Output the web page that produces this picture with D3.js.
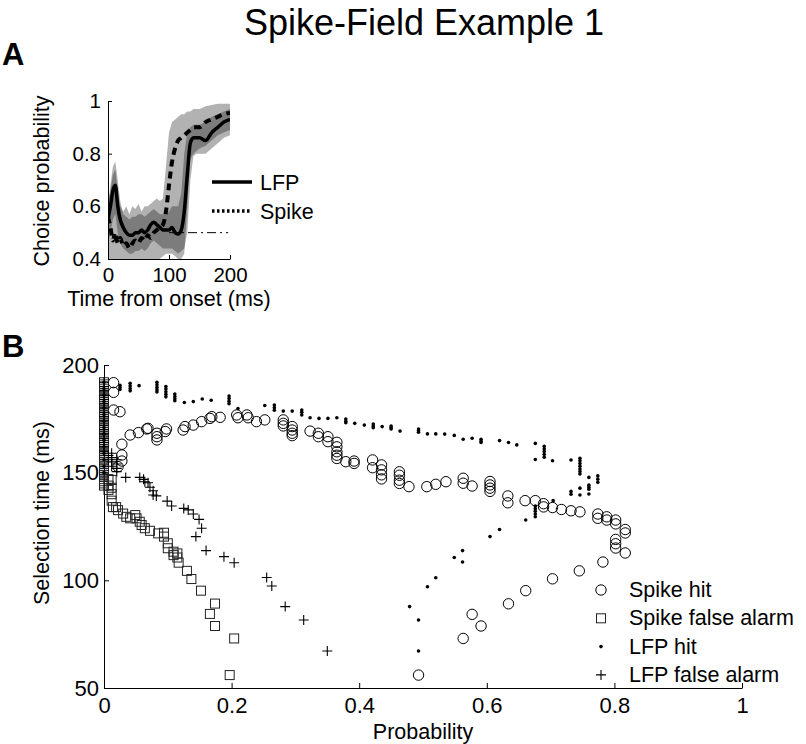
<!DOCTYPE html>
<html><head><meta charset="utf-8">
<script src="https://cdn.jsdelivr.net/npm/d3@7"></script>
<style>body{margin:0;background:#fff}svg{display:block;font-family:"Liberation Sans",Arial,sans-serif}</style>
</head><body><svg id="c" width="806" height="744"></svg>
<script>
// ---------- Panel A data ----------
const timeA = [0,4,8,12,16,20,25,30,35,40,45,50,55,60,65,70,75,80,85,90,95,100,105,110,115,120,125,130,135,140,145,150,160,170,180,190,200];
const lfpCP   = [0.55,0.6,0.66,0.68,0.6,0.55,0.52,0.5,0.49,0.49,0.5,0.5,0.51,0.5,0.51,0.53,0.54,0.53,0.52,0.51,0.51,0.51,0.52,0.5,0.495,0.51,0.58,0.72,0.84,0.86,0.86,0.86,0.85,0.88,0.9,0.92,0.93];
const spikeCP = [0.56,0.52,0.47,0.5,0.46,0.48,0.45,0.46,0.44,0.46,0.47,0.46,0.48,0.47,0.49,0.48,0.5,0.51,0.52,0.53,0.58,0.68,0.77,0.82,0.85,0.86,0.87,0.88,0.89,0.9,0.9,0.9,0.92,0.93,0.94,0.95,0.955];
const spikeHi = [0.62,0.66,0.72,0.74,0.66,0.6,0.58,0.6,0.57,0.6,0.59,0.61,0.58,0.6,0.6,0.61,0.62,0.63,0.62,0.63,0.75,0.88,0.92,0.93,0.94,0.95,0.95,0.96,0.96,0.97,0.97,0.97,0.98,0.985,0.99,0.99,0.99];
const spikeLo = [0.4,0.38,0.37,0.39,0.37,0.38,0.36,0.37,0.36,0.37,0.38,0.37,0.39,0.38,0.39,0.38,0.39,0.4,0.4,0.41,0.42,0.42,0.42,0.41,0.4,0.4,0.42,0.6,0.78,0.8,0.81,0.82,0.83,0.85,0.87,0.88,0.89];
const lfpHi   = [0.6,0.68,0.75,0.77,0.7,0.62,0.57,0.56,0.55,0.56,0.56,0.57,0.57,0.56,0.57,0.58,0.59,0.58,0.57,0.57,0.57,0.58,0.6,0.6,0.6,0.65,0.8,0.88,0.9,0.91,0.91,0.91,0.92,0.94,0.95,0.96,0.97];
const lfpLo   = [0.46,0.5,0.55,0.57,0.5,0.46,0.44,0.43,0.42,0.42,0.43,0.43,0.44,0.43,0.44,0.46,0.47,0.46,0.45,0.44,0.44,0.44,0.44,0.43,0.42,0.43,0.44,0.5,0.7,0.79,0.8,0.8,0.8,0.82,0.84,0.86,0.87];
const chanceLevel = 0.5;
const ticksAx = [0,100,200];
const ticksAy = [0.4,0.6,0.8,1];

// ---------- Panel B data: [probability, selection time (ms)] ----------
const spikeHit = [[0.015,191.8],[0.015,187.3],[0.015,179.1],[0.025,178.3],[0.028,163.2],[0.028,158.2],[0.028,155.4],[0.022,152.8],
[0.041,167.5],[0.054,168.6],[0.067,170.3],[0.069,170.6],[0.083,168.3],[0.083,166.7],[0.083,165.2],[0.096,169.1],[0.098,170.3],[0.124,169.8],[0.127,171.4],[0.14,172.1],[0.153,173.7],[0.166,175.2],[0.169,176],[0.182,175.7],[0.208,176.8],[0.21,175.5],[0.224,176.8],[0.226,175.5],[0.239,173.7],[0.252,174.5],[0.281,174.5],[0.281,172.9],[0.281,171.7],[0.295,171.4],[0.295,169.8],[0.295,168.3],[0.295,167.2],[0.323,169.3],[0.336,168.3],[0.336,166.7],[0.351,166.7],[0.351,164.4],[0.365,164.1],[0.365,162],[0.365,159.7],[0.365,158.1],[0.365,156.6],[0.379,155.1],[0.392,155.4],[0.392,154.3],[0.421,155.9],[0.421,152.3],[0.435,153.6],[0.435,151.3],[0.435,149],[0.435,147.1],[0.463,150.4],[0.463,148.8],[0.463,146.5],[0.463,145],[0.478,143.5],[0.506,143.5],[0.52,144.6],[0.536,145.8],[0.563,147.4],[0.563,145.1],[0.577,143.8],[0.605,145.9],[0.605,144.3],[0.605,142.8],[0.605,141.3],[0.633,139.2],[0.633,136],[0.66,137],[0.676,137],[0.689,135.6],[0.689,134.1],[0.703,133.8],[0.717,132.9],[0.732,132.3],[0.746,131.8],[0.774,130.8],[0.774,128.8],[0.788,129.5],[0.788,128],[0.802,128],[0.802,126.2],[0.817,123.6],[0.817,122],[0.802,119],[0.802,117],[0.802,115],[0.817,112.7],[0.782,108.5],[0.745,104.4],[0.703,100.7],[0.661,95.2],[0.634,89.1],[0.577,84.2],[0.591,78.8],[0.563,73],[0.493,56]];

const spikeFA = [[0,192],[0,191],[0,190],[0,189],[0,188],[0,187],[0,186],[0,185],[0,184],[0,183],[0,182],[0,181],[0,180],[0,179],[0,178],[0,177],[0,176],[0,175],[0,174],[0,173],[0,172],[0,171],[0,170],[0,169],[0,168],[0,167],[0,166],[0,165],[0,164],[0,163],[0,162],[0,161],[0,160],[0,159],[0,158],[0,157],[0,156],[0,155],[0,154],[0,153],[0,152],[0,151],[0,150],[0,149],[0,148],[0,147],[0,146],[0,145],[0,144],
[0.007,147],[0.007,144],[0.007,142],[0.012,146.6],[0.012,143],[0.012,140],[0.012,137],[0.014,134],[0.019,134],[0.022,132.6],[0.03,131],[0.035,129.5],[0.041,128.8],[0.049,130.3],[0.051,128.8],[0.056,127.2],[0.059,125.7],[0.064,124.2],[0.072,123],[0.085,121.8],[0.094,122.1],[0.094,120.3],[0.1,117.2],[0.1,114.9],[0.109,113.3],[0.109,111.7],[0.115,112.5],[0.115,110.6],[0.117,108.2],[0.13,104.4],[0.137,100.6],[0.152,95.2],[0.174,89.2],[0.166,84.4],[0.174,78.8],[0.204,73],[0.197,56]];

const lfpHit = [[0,192],[0,189],[0,186],[0,183],[0,180],[0,177],[0,174],[0,171],[0,168],[0,165],[0,162],[0,159],[0,156],[0,153],[0,150],
[0.025,190.6],[0.025,189.6],[0.025,188.6],[0.041,191.5],[0.041,190.3],[0.041,189.1],[0.041,188],[0.055,190.4],[0.083,192],[0.083,190.8],[0.083,189.6],[0.083,188.5],[0.083,187.5],[0.097,190],[0.097,188.8],[0.097,187.6],[0.097,186.4],[0.097,185.2],[0.111,186.5],[0.111,185.4],[0.111,184.3],[0.111,183.4],[0.126,182.6],[0.14,183],[0.154,184.2],[0.168,183.6],[0.196,185.6],[0.196,184.4],[0.196,183.2],[0.196,182],[0.21,179.8],[0.252,181.2],[0.267,181.4],[0.267,180.2],[0.267,179],[0.281,178.6],[0.295,178.6],[0.31,179.1],[0.31,178],[0.31,176.8],[0.323,175.5],[0.337,175.2],[0.351,175.2],[0.365,175.5],[0.379,174.9],[0.379,173.9],[0.379,173.2],[0.393,172.9],[0.408,172.1],[0.422,172.6],[0.422,171.7],[0.422,170.9],[0.436,171.4],[0.45,171.7],[0.45,170.9],[0.45,170.3],[0.464,169.3],[0.493,170.3],[0.493,169.5],[0.493,168.8],[0.507,168],[0.52,168],[0.534,167.9],[0.549,167.3],[0.563,165.5],[0.577,166],[0.591,165.5],[0.591,164.7],[0.591,164],[0.62,164.9],[0.634,164],[0.647,162.9],[0.676,163.6],[0.69,162.2],[0.69,161],[0.69,159.8],[0.69,158.5],[0.69,157.2],[0.676,156.1],[0.703,155.5],[0.732,155.9],[0.746,156.7],[0.746,155.5],[0.746,154.2],[0.746,153],[0.746,151.7],[0.746,150.5],[0.746,149.4],[0.76,147.8],[0.774,148.5],[0.774,147],[0.774,145.5],[0.76,144.2],[0.76,143.2],[0.76,142.3],[0.76,140.1],[0.746,142.8],[0.746,139.6],[0.732,141.3],[0.732,140],[0.704,137],[0.676,134.5],[0.676,133.3],[0.676,132.1],[0.676,130.8],[0.676,129.5],[0.661,128],[0.62,123.6],[0.605,120.3],[0.562,113.8],[0.549,110.6],[0.562,108.5],[0.52,101.2],[0.507,97],[0.479,87.8],[0.493,81.6],[0.493,67.2]];

const lfpFA = [[0,192],[0,190],[0,188],[0,186],[0,184],[0,182],[0,180],[0,178],[0,176],[0,174],[0,172],[0,170],[0,168],[0,166],[0,164],[0,162],[0,160],
[0.007,158],[0.007,156],[0.012,159],[0.012,157],[0.012,155],[0.012,153],[0.02,156],[0.02,154],[0.02,152],[0.02,150.5],[0.034,147.8],[0.056,147.8],[0.062,146.9],[0.064,145.8],[0.069,145.3],[0.072,143.2],[0.077,141.6],[0.077,139.6],[0.082,139.2],[0.099,136.8],[0.106,134.5],[0.125,133.4],[0.132,132.7],[0.14,130.8],[0.149,128.3],[0.153,124.2],[0.144,120.3],[0.16,113.8],[0.188,111],[0.204,108.2],[0.255,101.3],[0.263,97.4],[0.284,87.8],[0.313,81.6],[0.35,67.2]];

const ticksBx = [0,0.2,0.4,0.6,0.8,1];
const ticksBy = [50,100,150,200];
const legendB = ["Spike hit","Spike false alarm","LFP hit","LFP false alarm"];
const legendA = ["LFP","Spike"];

// ---------- drawing ----------
const svg = d3.select("#c");
svg.append("text").attr("x",424).attr("y",35).attr("text-anchor","middle")
  .attr("font-size",36).text("Spike-Field Example 1");
svg.append("text").attr("x",2).attr("y",65).attr("font-size",31).attr("font-weight","bold").text("A");
svg.append("text").attr("x",2).attr("y",357).attr("font-size",31).attr("font-weight","bold").text("B");

// Panel A
const xA = d3.scaleLinear().domain([0,200]).range([108,230]);
const yA = d3.scaleLinear().domain([0.4,1]).range([259,101]);
const defs = svg.append("defs");
defs.append("clipPath").attr("id","clipA").append("rect")
  .attr("x",xA(0)).attr("y",yA(1)-2).attr("width",xA(200)-xA(0)).attr("height",yA(0.4)-yA(1)+2);
const gA = svg.append("g").attr("clip-path","url(#clipA)");
const area = (lo,hi) => d3.area().x((d,i)=>xA(timeA[i])).y0((d,i)=>yA(lo[i])).y1((d,i)=>yA(hi[i]));
gA.append("path").attr("d",area(spikeLo,spikeHi)(timeA)).attr("fill","#000").attr("fill-opacity",0.3);
gA.append("path").attr("d",area(lfpLo,lfpHi)(timeA)).attr("fill","#000").attr("fill-opacity",0.3);
const lineA = vals => d3.line().x((d,i)=>xA(timeA[i])).y((d,i)=>yA(vals[i])).curve(d3.curveMonotoneX)(timeA);
gA.append("path").attr("d",lineA(lfpCP)).attr("fill","none").attr("stroke","#000").attr("stroke-width",3.5);
gA.append("path").attr("d",lineA(spikeCP)).attr("fill","none").attr("stroke","#000").attr("stroke-width",4).attr("stroke-dasharray","7,5");
svg.append("line").attr("x1",xA(100)).attr("x2",xA(197)).attr("y1",yA(chanceLevel)).attr("y2",yA(chanceLevel))
  .attr("stroke","#000").attr("stroke-width",1).attr("stroke-dasharray","9,4,2,4");

const axA_y = svg.append("g").attr("transform",`translate(${xA(0)},0)`)
  .call(d3.axisLeft(yA).tickValues(ticksAy).tickFormat(d3.format("")).tickSizeInner(-4).tickSizeOuter(0).tickPadding(7));
const axA_x = svg.append("g").attr("transform",`translate(0,${yA(0.4)})`)
  .call(d3.axisBottom(xA).tickValues(ticksAx).tickSizeInner(-4).tickSizeOuter(0).tickPadding(8.5));
[axA_y,axA_x].forEach(a=>{a.selectAll("text").attr("font-size",20.5).attr("fill","#000");
  a.selectAll("path,line").attr("stroke","#000");a.attr("font-family",null);});
svg.append("text").attr("transform","translate(49,181) rotate(-90)").attr("text-anchor","middle").attr("font-size",21.5).text("Choice probability");
svg.append("text").attr("x",169).attr("y",306).attr("text-anchor","middle").attr("font-size",21.5).text("Time from onset (ms)");

// Legend A
const legAy = [182,211];
legendA.forEach((name,i)=>{
  svg.append("line").attr("x1",212).attr("x2",252).attr("y1",legAy[i]).attr("y2",legAy[i])
    .attr("stroke","#000").attr("stroke-width",3.5).attr("stroke-dasharray",i===0?null:"2.5,2.5");
  svg.append("text").attr("x",260).attr("y",legAy[i]+7.5).attr("font-size",21.5).text(name);
});

// Panel B
const xB = d3.scaleLinear().domain([0,1]).range([104,742]);
const yB = d3.scaleLinear().domain([50,200]).range([688,365]);
const axB_y = svg.append("g").attr("transform",`translate(${xB(0)},0)`)
  .call(d3.axisLeft(yB).tickValues(ticksBy).tickSizeInner(-5).tickSizeOuter(0).tickPadding(5));
const axB_x = svg.append("g").attr("transform",`translate(0,${yB(50)})`)
  .call(d3.axisBottom(xB).tickValues(ticksBx).tickFormat(d3.format("")).tickSizeInner(-5).tickSizeOuter(0).tickPadding(9));
[axB_y,axB_x].forEach(a=>{a.selectAll("text").attr("font-size",22).attr("fill","#000");
  a.selectAll("path,line").attr("stroke","#000");a.attr("font-family",null);});
svg.append("text").attr("transform","translate(49,513) rotate(-90)").attr("text-anchor","middle").attr("font-size",21.5).text("Selection time (ms)");
svg.append("text").attr("x",xB(0.5)).attr("y",739).attr("text-anchor","middle").attr("font-size",21.5).text("Probability");

const gB = svg.append("g");
const drawCircle = (g,x,y)=>g.append("circle").attr("cx",x).attr("cy",y).attr("r",5.2).attr("fill","none").attr("stroke","#000").attr("stroke-width",1);
const drawSquare = (g,x,y)=>g.append("rect").attr("x",x-4.5).attr("y",y-4.5).attr("width",9).attr("height",9).attr("fill","none").attr("stroke","#222").attr("stroke-width",1);
const drawDot = (g,x,y)=>g.append("circle").attr("cx",x).attr("cy",y).attr("r",1.8).attr("fill","#000");
const drawPlus = (g,x,y)=>g.append("path").attr("d",`M${x-5},${y}H${x+5}M${x},${y-5}V${y+5}`).attr("stroke","#000").attr("stroke-width",1.1).attr("fill","none");
spikeHit.forEach(d=>drawCircle(gB,xB(d[0]),yB(d[1])));
spikeFA.forEach(d=>drawSquare(gB,xB(d[0]),yB(d[1])));
lfpHit.forEach(d=>drawDot(gB,xB(d[0]),yB(d[1])));
lfpFA.forEach(d=>drawPlus(gB,xB(d[0]),yB(d[1])));

// Legend B
const drawers = [drawCircle,drawSquare,drawDot,drawPlus];
legendB.forEach((name,i)=>{
  const by = 597 + i*28.3;
  drawers[i](svg,601,by-7);
  svg.append("text").attr("x",629).attr("y",by).attr("font-size",21.5).text(name);
});
</script></body></html>
